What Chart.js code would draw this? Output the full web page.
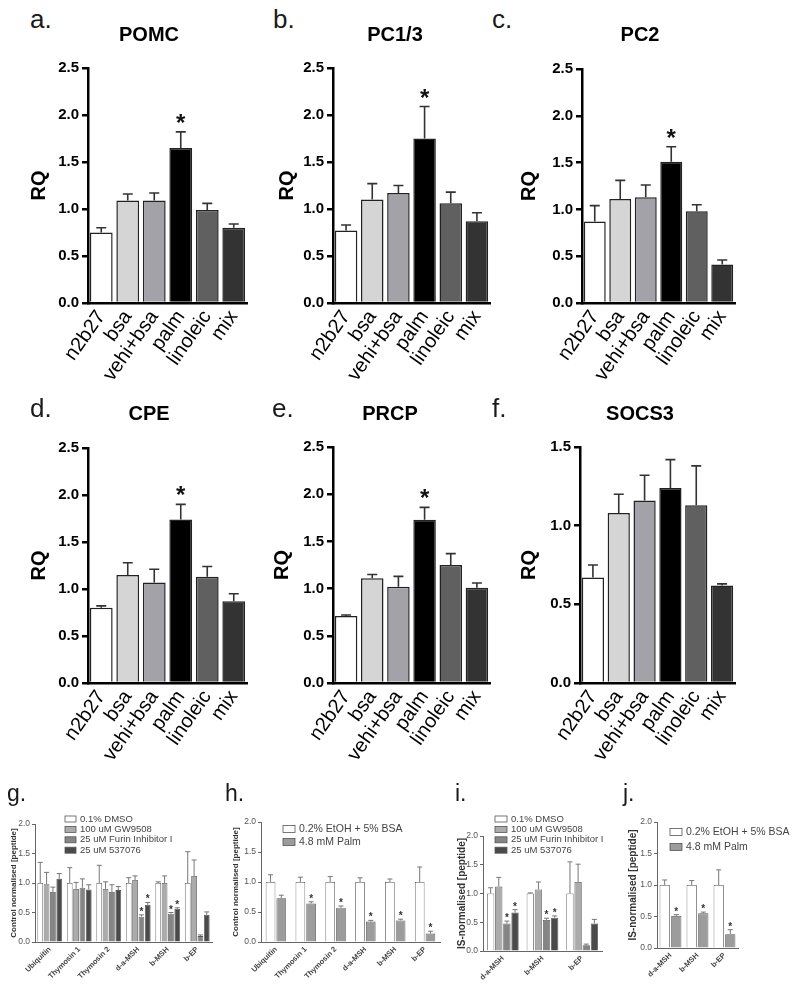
<!DOCTYPE html>
<html>
<head>
<meta charset="utf-8">
<script src="https://cdn.jsdelivr.net/npm/chart.js@4.4.1/dist/chart.umd.min.js"></script>
<style>
  body { margin: 0; background: #fff; }
  #fig { position: relative; width: 800px; height: 992px; overflow: hidden; font-family: "Liberation Sans", Arial, sans-serif; }
  #fig canvas { position: absolute; }
  .lbl { position: absolute; font-size: 26px; line-height: 26px; color: #1a1a1a; }
  .lbl.small { font-size: 23px; line-height: 23px; }
  .ttl { position: absolute; font-size: 20px; line-height: 20px; font-weight: bold; color: #000; transform: translateX(-50%); white-space: nowrap; }
</style>
</head>
<body>
<div id="fig"></div>
<script>
// categories
var groups = ['n2b27', 'bsa', 'vehi+bsa', 'palm', 'linoleic', 'mix'];
var peptides6 = ['Ubiquitin', 'Thymosin 1', 'Thymosin 2', 'd-a-MSH', 'b-MSH', 'b-EP'];
var peptides3 = ['d-a-MSH', 'b-MSH', 'b-EP'];

// tick labels
var rqTicks = [0, 0.5, 1.0, 1.5, 2.0, 2.5];
var socsTicks = [0, 0.5, 1.0, 1.5];
var pepTicks = [0, 0.5, 1.0, 1.5, 2.0];

// qPCR panels (mean, sem, index of bars with *)
var pomcMean = [0.75, 1.09, 1.09, 1.65, 0.99, 0.80];
var pomcSem  = [0.05, 0.07, 0.08, 0.17, 0.07, 0.04];
var pc13Mean = [0.77, 1.10, 1.17, 1.75, 1.06, 0.87];
var pc13Sem  = [0.06, 0.17, 0.08, 0.34, 0.12, 0.09];
var pc2Mean  = [0.87, 1.11, 1.13, 1.51, 0.98, 0.41];
var pc2Sem   = [0.17, 0.20, 0.13, 0.16, 0.07, 0.05];
var cpeMean  = [0.80, 1.15, 1.07, 1.74, 1.13, 0.87];
var cpeSem   = [0.02, 0.13, 0.14, 0.16, 0.11, 0.08];
var prcpMean = [0.71, 1.11, 1.02, 1.73, 1.25, 1.01];
var prcpSem  = [0.01, 0.04, 0.11, 0.13, 0.12, 0.05];
var socsMean = [0.67, 1.08, 1.16, 1.24, 1.13, 0.62];
var socsSem  = [0.08, 0.12, 0.16, 0.18, 0.25, 0.01];
var palmStar = [3];
var noStar = [];

// g. control normalised, inhibitors
var gDmso   = [1.00, 1.00, 1.00, 1.00, 1.00, 1.00];
var gDmsoE  = [0.35, 0.26, 0.30, 0.09, 0.02, 0.53];
var gGw     = [0.98, 0.90, 0.90, 1.05, 1.00, 1.12];
var gGwE    = [0.20, 0.11, 0.12, 0.07, 0.12, 0.27];
var gFurin  = [0.85, 0.92, 0.85, 0.43, 0.48, 0.10];
var gFurinE = [0.08, 0.15, 0.12, 0.03, 0.02, 0.02];
var gCpd    = [1.07, 0.89, 0.88, 0.63, 0.56, 0.46];
var gCpdE   = [0.09, 0.08, 0.06, 0.04, 0.02, 0.05];
var gStar   = [3, 4];

// h. control normalised, palmitate
var hVeh   = [1.00, 1.00, 1.00, 1.00, 1.00, 1.00];
var hVehE  = [0.12, 0.08, 0.09, 0.07, 0.05, 0.25];
var hPalm  = [0.73, 0.64, 0.57, 0.34, 0.36, 0.14];
var hPalmE = [0.05, 0.03, 0.03, 0.02, 0.02, 0.04];
var hStar  = [1, 2, 3, 4, 5];

// i. IS-normalised, inhibitors
var iDmso   = [1.00, 1.00, 1.00];
var iDmsoE  = [0.10, 0.01, 0.55];
var iGw     = [1.12, 1.07, 1.20];
var iGwE    = [0.16, 0.13, 0.31];
var iFurin  = [0.48, 0.54, 0.10];
var iFurinE = [0.04, 0.03, 0.02];
var iCpd    = [0.67, 0.58, 0.48];
var iCpdE   = [0.05, 0.03, 0.07];
var iStar   = [0, 1];

// j. IS-normalised, palmitate
var jVeh   = [1.00, 1.00, 1.00];
var jVehE  = [0.08, 0.07, 0.24];
var jPalm  = [0.51, 0.55, 0.22];
var jPalmE = [0.02, 0.02, 0.07];
var jStar  = [0, 1, 2];

var barFills = ['#ffffff', '#d5d5d5', '#a2a2a8', '#000000', '#606060', '#333333'];
var FONT = '"Liberation Sans", Arial, sans-serif';
Chart.defaults.font.family = FONT;

var fig = document.getElementById('fig');

// error bars (upper only) and significance stars
var errorBars = {
  id: 'errorBars',
  afterDatasetsDraw: function (chart, args, o) {
    var ctx = chart.ctx, ys = chart.scales.y;
    chart.data.datasets.forEach(function (ds, di) {
      if (!ds.sem) return;
      chart.getDatasetMeta(di).data.forEach(function (bar, i) {
        var top = ys.getPixelForValue(ds.data[i] + ds.sem[i]);
        ctx.save();
        ctx.strokeStyle = o.color;
        ctx.lineWidth = o.width;
        ctx.beginPath();
        ctx.moveTo(bar.x, bar.y);
        ctx.lineTo(bar.x, top);
        ctx.moveTo(bar.x - o.cap, top);
        ctx.lineTo(bar.x + o.cap, top);
        ctx.stroke();
        if (ds.stars && ds.stars.indexOf(i) >= 0) {
          ctx.fillStyle = o.starColor;
          ctx.font = o.starFont;
          ctx.textAlign = 'center';
          ctx.textBaseline = 'alphabetic';
          ctx.fillText('*', bar.x, top - o.starGap);
        }
        ctx.restore();
      });
    });
  }
};

// legend drawn inside the plot, one row per dataset
var boxLegend = {
  id: 'boxLegend',
  afterDraw: function (chart, args, o) {
    if (!o.show) return;
    var ctx = chart.ctx, a = chart.chartArea;
    chart.data.datasets.forEach(function (ds, i) {
      var x = a.left + o.x, y = a.top + o.y + i * o.gap;
      ctx.save();
      ctx.fillStyle = ds.backgroundColor;
      ctx.fillRect(x, y - o.boxH / 2, o.boxW, o.boxH);
      ctx.strokeStyle = '#555';
      ctx.lineWidth = 0.8;
      ctx.strokeRect(x, y - o.boxH / 2, o.boxW, o.boxH);
      ctx.fillStyle = '#444';
      ctx.font = o.font;
      ctx.textBaseline = 'middle';
      ctx.fillText(ds.label, x + o.boxW + 4, y);
      ctx.restore();
    });
  }
};

function addCanvas(b) {
  var c = document.createElement('canvas');
  c.width = b.w;
  c.height = b.h;
  c.style.left = b.left + 'px';
  c.style.top = b.top + 'px';
  c.style.width = b.w + 'px';
  c.style.height = b.h + 'px';
  fig.appendChild(c);
  return c;
}

function scalesFor(b, yTicks, st) {
  return {
    x: {
      afterFit: function (s) { s.height = b.top + b.h - b.plotB; },
      grid: { display: false, drawTicks: false },
      border: { display: true, color: st.axis, width: st.axisW },
      ticks: { color: st.xColor, font: st.xFont, minRotation: st.rot, maxRotation: st.rot, padding: st.xPad, autoSkip: false }
    },
    y: {
      min: 0,
      max: yTicks[yTicks.length - 1],
      afterFit: function (s) { s.width = b.plotL - b.left; },
      afterBuildTicks: function (s) { s.ticks = yTicks.map(function (v) { return { value: v }; }); },
      grid: { display: true, drawOnChartArea: false, drawTicks: true, tickLength: st.tickLen, color: st.axis, lineWidth: st.tickW },
      border: { display: true, color: st.axis, width: st.axisW },
      ticks: { color: st.yColor, font: st.yFont, padding: st.yPad, callback: function (v) { return Number(v).toFixed(1); } },
      title: {
        display: true, text: st.yTitle, color: st.titleColor, font: st.titleFont,
        padding: { top: b.yTitleX - b.left - st.titleFont.size * 0.6, bottom: 0 }
      }
    }
  };
}

function makeChart(b, datasets, labels, yTicks, st, errOpts, legOpts) {
  new Chart(addCanvas(b), {
    type: 'bar',
    data: { labels: labels, datasets: datasets },
    options: {
      responsive: false,
      animation: false,
      devicePixelRatio: 1,
      layout: { padding: { top: b.plotT - b.top, right: b.left + b.w - b.plotR, left: 0, bottom: 0 } },
      scales: scalesFor(b, yTicks, st),
      plugins: {
        legend: { display: false },
        tooltip: { enabled: false },
        errorBars: errOpts,
        boxLegend: legOpts || { show: false }
      }
    },
    plugins: [errorBars, boxLegend]
  });
}

// ---- qPCR panels a-f ----
var rqStyle = {
  axis: '#000', axisW: 2.5, tickLen: 6, tickW: 2.5,
  xColor: '#000', xFont: { size: 20 }, rot: 55, xPad: 3,
  yColor: '#000', yFont: { size: 15, weight: 'bold' }, yPad: 3,
  yTitle: 'RQ', titleColor: '#000', titleFont: { size: 20, weight: 'bold' }
};
var rqErr = { color: '#333', width: 1.6, cap: 5, starFont: 'bold 24px ' + FONT, starColor: '#111', starGap: 1 };

var topPanels = [
  { mean: pomcMean, sem: pomcSem, stars: palmStar, yt: rqTicks,
    box: { left: 0, top: 40, w: 262, h: 365, plotL: 88, plotR: 247, plotT: 68, plotB: 303, yTitleX: 39 } },
  { mean: pc13Mean, sem: pc13Sem, stars: palmStar, yt: rqTicks,
    box: { left: 262, top: 40, w: 243, h: 365, plotL: 333, plotR: 490, plotT: 68, plotB: 303, yTitleX: 287 } },
  { mean: pc2Mean, sem: pc2Sem, stars: palmStar, yt: rqTicks,
    box: { left: 505, top: 40, w: 295, h: 365, plotL: 582, plotR: 735, plotT: 69, plotB: 303, yTitleX: 529 } },
  { mean: cpeMean, sem: cpeSem, stars: palmStar, yt: rqTicks,
    box: { left: 0, top: 420, w: 262, h: 365, plotL: 88, plotR: 247, plotT: 448, plotB: 683, yTitleX: 39 } },
  { mean: prcpMean, sem: prcpSem, stars: palmStar, yt: rqTicks,
    box: { left: 262, top: 420, w: 243, h: 365, plotL: 333, plotR: 490, plotT: 447, plotB: 683, yTitleX: 282 } },
  { mean: socsMean, sem: socsSem, stars: noStar, yt: socsTicks,
    box: { left: 505, top: 420, w: 295, h: 365, plotL: 580, plotR: 735, plotT: 447, plotB: 683, yTitleX: 529 } }
];

topPanels.forEach(function (p) {
  makeChart(p.box, [{
    data: p.mean, sem: p.sem, stars: p.stars,
    backgroundColor: barFills, borderColor: '#222', borderWidth: 1.5,
    barPercentage: 0.86, categoryPercentage: 1.0
  }], groups, p.yt, rqStyle, rqErr);
});

// ---- peptide panels g-j ----
function pepStyle(title, titleSize) {
  return {
    axis: '#666', axisW: 1, tickLen: 3, tickW: 1,
    xColor: '#444', xFont: { size: 7.5, weight: 'bold' }, rot: 45, xPad: 3,
    yColor: '#555', yFont: { size: 8.5 }, yPad: 2,
    yTitle: title, titleColor: '#333', titleFont: { size: titleSize, weight: 'bold' }
  };
}
var pepErr = { color: '#777', width: 1, cap: 2.5, starFont: 'bold 10px ' + FONT, starColor: '#333', starGap: 0 };

function pepSet(label, data, sem, stars, fill, bp, cp) {
  return { label: label, data: data, sem: sem, stars: stars, backgroundColor: fill, borderColor: '#555',
           borderWidth: 0.8, barPercentage: bp, categoryPercentage: cp };
}

makeChart(
  { left: 0, top: 800, w: 222, h: 192, plotL: 35, plotR: 212, plotT: 824, plotB: 942, yTitleX: 14 },
  [
    pepSet('0.1% DMSO', gDmso, gDmsoE, noStar, '#ffffff', 0.9, 0.86),
    pepSet('100 uM GW9508', gGw, gGwE, noStar, '#ababab', 0.9, 0.86),
    pepSet('25 uM Furin Inhibitor I', gFurin, gFurinE, gStar, '#858585', 0.9, 0.86),
    pepSet('25 uM 537076', gCpd, gCpdE, gStar, '#4a4a4a', 0.9, 0.86)
  ],
  peptides6, pepTicks, pepStyle('Control normalised [peptide]', 8), pepErr,
  { show: true, x: 30, y: -5, gap: 10.4, boxW: 11, boxH: 6, font: '9.5px ' + FONT }
);

makeChart(
  { left: 225, top: 800, w: 222, h: 192, plotL: 261, plotR: 440, plotT: 822, plotB: 942, yTitleX: 236 },
  [
    pepSet('0.2% EtOH + 5% BSA', hVeh, hVehE, noStar, '#ffffff', 0.9, 0.72),
    pepSet('4.8 mM Palm', hPalm, hPalmE, hStar, '#9c9c9c', 0.9, 0.72)
  ],
  peptides6, pepTicks, pepStyle('Control normalised [peptide]', 8), pepErr,
  { show: true, x: 22, y: 7, gap: 13, boxW: 12, boxH: 7, font: '10.5px ' + FONT }
);

makeChart(
  { left: 447, top: 800, w: 165, h: 192, plotL: 483, plotR: 602, plotT: 836, plotB: 951, yTitleX: 462 },
  [
    pepSet('0.1% DMSO', iDmso, iDmsoE, noStar, '#ffffff', 0.9, 0.82),
    pepSet('100 uM GW9508', iGw, iGwE, noStar, '#ababab', 0.9, 0.82),
    pepSet('25 uM Furin Inhibitor I', iFurin, iFurinE, iStar, '#858585', 0.9, 0.82),
    pepSet('25 uM 537076', iCpd, iCpdE, iStar, '#4a4a4a', 0.9, 0.82)
  ],
  peptides3, pepTicks, pepStyle('IS-normalised [peptide]', 10), pepErr,
  { show: true, x: 12, y: -17, gap: 10.4, boxW: 12, boxH: 6, font: '9.5px ' + FONT }
);

makeChart(
  { left: 612, top: 800, w: 188, h: 192, plotL: 657, plotR: 738, plotT: 822, plotB: 948, yTitleX: 633 },
  [
    pepSet('0.2% EtOH + 5% BSA', jVeh, jVehE, noStar, '#ffffff', 0.88, 0.86),
    pepSet('4.8 mM Palm', jPalm, jPalmE, jStar, '#9c9c9c', 0.88, 0.86)
  ],
  peptides3, pepTicks, pepStyle('IS-normalised [peptide]', 10), pepErr,
  { show: true, x: 13, y: 10, gap: 15, boxW: 12, boxH: 7, font: '10.5px ' + FONT }
);

// panel letters and gene titles
var letters = [
  ['a.', 30, 6, ''], ['b.', 273, 6, ''], ['c.', 492, 6, ''],
  ['d.', 30, 395, ''], ['e.', 272, 395, ''], ['f.', 492, 395, ''],
  ['g.', 7, 782, 'small'], ['h.', 225, 782, 'small'], ['i.', 455, 782, 'small'], ['j.', 623, 782, 'small']
];
letters.forEach(function (l) {
  var d = document.createElement('div');
  d.className = 'lbl ' + l[3];
  d.textContent = l[0];
  d.style.left = l[1] + 'px';
  d.style.top = l[2] + 'px';
  fig.appendChild(d);
});

var titles = [
  ['POMC', 149, 24], ['PC1/3', 395, 24], ['PC2', 640, 24],
  ['CPE', 149, 403], ['PRCP', 390, 403], ['SOCS3', 640, 403]
];
titles.forEach(function (t) {
  var d = document.createElement('div');
  d.className = 'ttl';
  d.textContent = t[0];
  d.style.left = t[1] + 'px';
  d.style.top = t[2] + 'px';
  fig.appendChild(d);
});
</script>
</body>
</html>
